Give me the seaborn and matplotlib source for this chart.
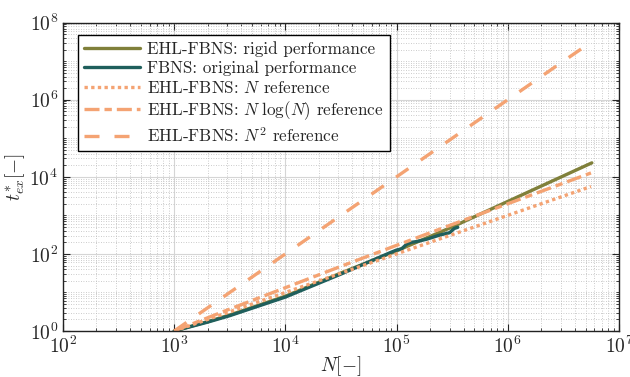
import numpy as np
import pandas as pd
import matplotlib
matplotlib.use("Agg")
import matplotlib.pyplot as plt
import seaborn as sns
from matplotlib.ticker import LogLocator, NullFormatter

# ---- data ----
rigid_N = [1e3, 2e3, 3.16e3, 1e4, 3.16e4, 1e5, 3.16e5, 1e6, 5.7e6]
rigid_t = [1.0, 1.75, 2.6, 8.0, 32.0, 120.0, 500.0, 2300.0, 23000.0]

fbns_N = [1e3, 2e3, 3.16e3, 1e4, 3.16e4, 8.7e4, 1e5, 1.11e5, 1.23e5, 1.36e5,
          1.51e5, 1.86e5, 2.45e5, 3.0e5, 3.3e5, 3.55e5]
fbns_t = [1.0, 1.7, 2.5, 7.6, 30.0, 107.0, 126.0, 135.0, 178.0, 200.0,
          209.0, 240.0, 309.0, 355.0, 457.0, 490.0]

ref_N = [1e3, 3e3, 1e4, 3e4, 1e5, 3e5, 1e6, 3e6, 5.6e6]
ref_lin = [1.0, 3.0, 10.0, 30.0, 100.0, 300.0, 1000.0, 3000.0, 5600.0]
ref_nlogn = [1.0, 3.5, 13.3, 45.0, 167.0, 548.0, 2000.0, 6475.0, 12600.0]
ref_sq = [1.0, 9.0, 100.0, 900.0, 1e4, 9e4, 1e6, 9e6, 3.1e7]

labels = ["EHL-FBNS: rigid performance",
          "FBNS: original performance",
          "EHL-FBNS: $N$ reference",
          "EHL-FBNS: $N\\;\\log(N)$ reference",
          "EHL-FBNS: $N^2$ reference"]

# ---- style ----
sns.set_style("ticks")
plt.rcParams["font.family"] = ["serif"]
plt.rcParams["font.serif"] = ["cmr10", "DejaVu Serif"]
plt.rcParams["mathtext.fontset"] = "cm"
plt.rcParams["axes.formatter.use_mathtext"] = True
plt.rcParams["axes.unicode_minus"] = False

olive = "#80803a"
teal = "#1f5f5c"
orange = "#f4a373"

fig = plt.figure(figsize=(6.3, 3.77), dpi=100)
ax = fig.add_axes([0.1, 0.122, 0.8825, 0.818])

lw = 2.4
series = [
    (rigid_N, rigid_t, labels[0], olive, "-"),
    (fbns_N, fbns_t, labels[1], teal, "-"),
    (ref_N, ref_lin, labels[2], orange, (0, (1, 1))),
    (ref_N, ref_nlogn, labels[3], orange, (0, (4.5, 1.5, 2.2, 1.5))),
    (ref_N, ref_sq, labels[4], orange, (0, (4.5, 4.5))),
]
for xs, ys, lab, col, ls in series:
    df = pd.DataFrame({"N": xs, "t": ys})
    sns.lineplot(data=df, x="N", y="t", ax=ax, color=col, lw=lw,
                 linestyle=ls, label=lab, sort=False)

ax.set_xscale("log")
ax.set_yscale("log")
ax.set_xlim(1e2, 1e7)
ax.set_ylim(1e0, 1e8)
ax.set_xticks([1e2, 1e3, 1e4, 1e5, 1e6, 1e7])
ax.set_yticks([1e0, 1e2, 1e4, 1e6, 1e8])
ax.xaxis.set_minor_locator(LogLocator(base=10, subs=np.arange(2, 10), numticks=20))
ax.yaxis.set_minor_locator(LogLocator(base=10, subs=np.arange(1, 10), numticks=20))
ax.yaxis.set_minor_formatter(NullFormatter())
ax.xaxis.set_minor_formatter(NullFormatter())

ax.grid(True, which="major", color="#d5d5d5", lw=0.8, ls="-")
ax.grid(True, which="minor", color="#bbbbbb", lw=0.6, ls=(0, (1, 2)))
ax.set_axisbelow(True)

ax.tick_params(which="both", direction="in", top=True, right=True, labelsize=14)
ax.tick_params(which="major", length=5, width=0.8)
ax.tick_params(which="minor", length=2.5, width=0.6)
for s in ax.spines.values():
    s.set_color("#222222")
    s.set_linewidth(1.0)

ax.set_xlabel("$N[-]$", fontsize=14, labelpad=-2)
ax.set_ylabel("$t^{*}_{ex}[-]$", fontsize=14, labelpad=2)

leg = ax.legend(loc="upper left", bbox_to_anchor=(0.027, 0.96), borderaxespad=0,
                fontsize=12.3, fancybox=False, framealpha=1, edgecolor="black",
                handlelength=3.25, handletextpad=0.45, labelspacing=0.22,
                borderpad=0.35)
leg.get_frame().set_linewidth(1.0)

fig.savefig("out.png", dpi=100)
